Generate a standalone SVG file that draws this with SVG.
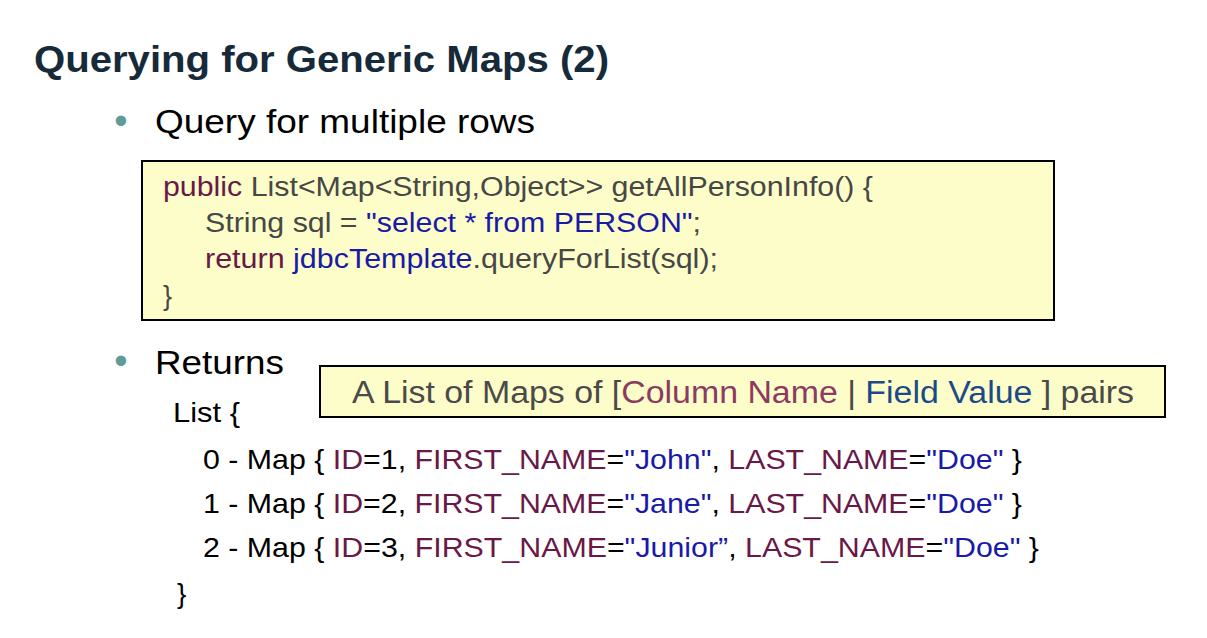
<svg xmlns="http://www.w3.org/2000/svg" width="1207" height="638" viewBox="0 0 1207 638">
<style>
.title{font-family:"Liberation Sans",Arial,sans-serif;font-weight:bold;font-size:36px;fill:#172a3a}
.bul{font-family:"Liberation Sans",Arial,sans-serif;font-size:34px;fill:#000}
.dot{font-family:"Liberation Sans",Arial,sans-serif;font-size:38px;fill:#5e9c98;text-anchor:middle}
.code{font-family:"Liberation Sans",Arial,sans-serif;font-size:27px;fill:#474747}
.row{font-family:"Liberation Sans",Arial,sans-serif;font-size:28px;fill:#000}
.note{font-family:"Liberation Sans",Arial,sans-serif;font-size:31px;fill:#4a4a4a}
.kw{fill:#6a1848}
.str{fill:#1a1aa8}
.col{fill:#8c3a62}
.fld{fill:#1c4a88}
.box{fill:#fdfdc9;stroke:#000;stroke-width:2}
</style>
<rect width="1207" height="638" fill="#fff"/>
<g id="title"><text class="title" x="34" y="72" textLength="575" lengthAdjust="spacingAndGlyphs">Querying for Generic Maps (2)</text></g>
<g id="bullet1">
<text class="dot" x="121" y="134">•</text>
<text class="bul" x="155" y="133" textLength="380" lengthAdjust="spacingAndGlyphs">Query for multiple rows</text>
</g>
<g id="codebox">
<rect class="box" x="142" y="161" width="912" height="159"/>
<text class="code" x="163" y="196" textLength="710" lengthAdjust="spacingAndGlyphs"><tspan class="kw">public</tspan> List&lt;Map&lt;String,Object&gt;&gt; getAllPersonInfo() {</text>
<text class="code" x="205" y="232" textLength="496" lengthAdjust="spacingAndGlyphs">String sql = <tspan class="str">"select * from PERSON"</tspan>;</text>
<text class="code" x="205" y="268" textLength="513" lengthAdjust="spacingAndGlyphs"><tspan class="kw">return</tspan> <tspan class="str">jdbcTemplate</tspan>.queryForList(sql);</text>
<text class="code" x="163" y="305">}</text>
</g>
<g id="bullet2">
<text class="dot" x="121" y="374">•</text>
<text class="bul" x="155" y="374" textLength="129" lengthAdjust="spacingAndGlyphs">Returns</text>
</g>
<g id="notebox">
<rect class="box" x="320" y="366" width="845" height="51"/>
<text class="note" x="352" y="403" textLength="782" lengthAdjust="spacingAndGlyphs">A List of Maps of [<tspan class="col">Column Name</tspan> | <tspan class="fld">Field Value</tspan> ] pairs</text>
</g>
<g id="listing">
<text class="row" x="173" y="422" textLength="67" lengthAdjust="spacingAndGlyphs">List {</text>
<text class="row" x="203" y="469" textLength="819" lengthAdjust="spacingAndGlyphs">0 - Map { <tspan class="kw">ID</tspan>=1, <tspan class="kw">FIRST_NAME</tspan>=<tspan class="str">"John"</tspan>, <tspan class="kw">LAST_NAME</tspan>=<tspan class="str">"Doe"</tspan> }</text>
<text class="row" x="203" y="513" textLength="819" lengthAdjust="spacingAndGlyphs">1 - Map { <tspan class="kw">ID</tspan>=2, <tspan class="kw">FIRST_NAME</tspan>=<tspan class="str">"Jane"</tspan>, <tspan class="kw">LAST_NAME</tspan>=<tspan class="str">"Doe"</tspan> }</text>
<text class="row" x="203" y="557" textLength="836" lengthAdjust="spacingAndGlyphs">2 - Map { <tspan class="kw">ID</tspan>=3, <tspan class="kw">FIRST_NAME</tspan>=<tspan class="str">"Junior”</tspan>, <tspan class="kw">LAST_NAME</tspan>=<tspan class="str">"Doe"</tspan> }</text>
<text class="row" x="177" y="603">}</text>
</g>
</svg>
